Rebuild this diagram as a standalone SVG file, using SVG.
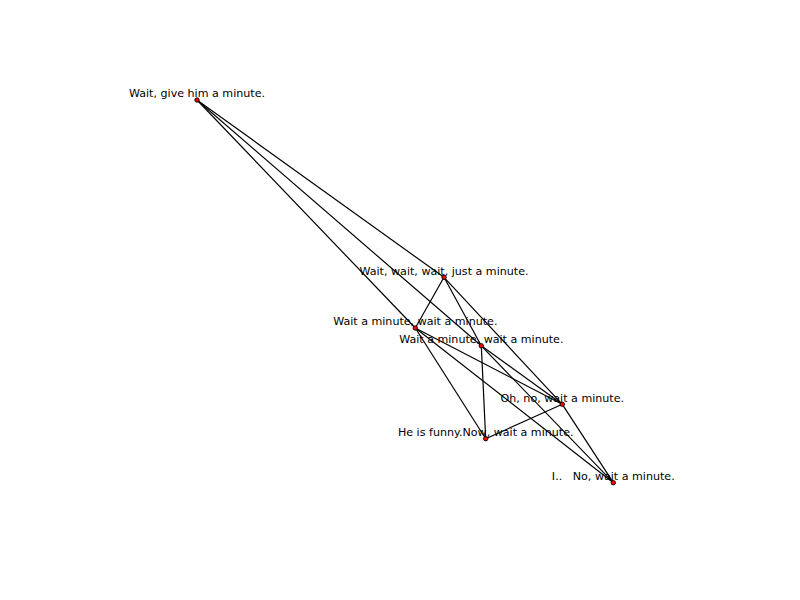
<svg xmlns="http://www.w3.org/2000/svg" width="800" height="600" viewBox="0 0 800 600">
<style>
.e{stroke:#000;stroke-width:1.2;fill:none}
.n circle{fill:#ff0000;stroke:#000;stroke-width:0.9}
.n text{font-family:"DejaVu Sans","Liberation Sans",sans-serif;font-size:11.1px;fill:#000;text-anchor:middle;white-space:pre}
</style>
<rect width="800" height="600" fill="#fff"/>
<g id="edges">
<line class="e" x1="197" y1="100" x2="444" y2="277.3"/>
<line class="e" x1="197" y1="100" x2="415.3" y2="328"/>
<line class="e" x1="197" y1="100" x2="481.3" y2="345.8"/>
<line class="e" x1="444" y1="277.3" x2="415.3" y2="328"/>
<line class="e" x1="444" y1="277.3" x2="562.3" y2="404.3"/>
<line class="e" x1="444" y1="277.3" x2="481.3" y2="345.8"/>
<line class="e" x1="415.3" y1="328" x2="562.3" y2="404.3"/>
<line class="e" x1="415.3" y1="328" x2="485.7" y2="438.7"/>
<line class="e" x1="415.3" y1="328" x2="613.3" y2="482.7"/>
<line class="e" x1="481.3" y1="345.8" x2="562.3" y2="404.3"/>
<line class="e" x1="481.3" y1="345.8" x2="485.7" y2="438.7"/>
<line class="e" x1="481.3" y1="345.8" x2="613.3" y2="482.7"/>
<line class="e" x1="562.3" y1="404.3" x2="485.7" y2="438.7"/>
<line class="e" x1="562.3" y1="404.3" x2="613.3" y2="482.7"/>
</g>
<g id="n1" class="n"><circle cx="197" cy="100" r="2.2"/><text x="197" y="97.2">Wait, give him a minute.</text></g>
<g id="n2" class="n"><circle cx="444" cy="277.3" r="2.2"/><text x="444" y="274.5">Wait, wait, wait, just a minute.</text></g>
<g id="n3" class="n"><circle cx="415.3" cy="328" r="2.2"/><text x="415.3" y="325.2">Wait a minute, wait a minute.</text></g>
<g id="n4" class="n"><circle cx="481.3" cy="345.8" r="2.2"/><text x="481.3" y="343">Wait a minute, wait a minute.</text></g>
<g id="n5" class="n"><circle cx="562.3" cy="404.3" r="2.2"/><text x="562.3" y="401.5">Oh, no, wait a minute.</text></g>
<g id="n6" class="n"><circle cx="485.7" cy="438.7" r="2.2"/><text x="485.7" y="435.9">He is funny.Now, wait a minute.</text></g>
<g id="n7" class="n"><circle cx="613.3" cy="482.7" r="2.2"/><text x="613.3" y="479.9">I..   No, wait a minute.</text></g>
</svg>
